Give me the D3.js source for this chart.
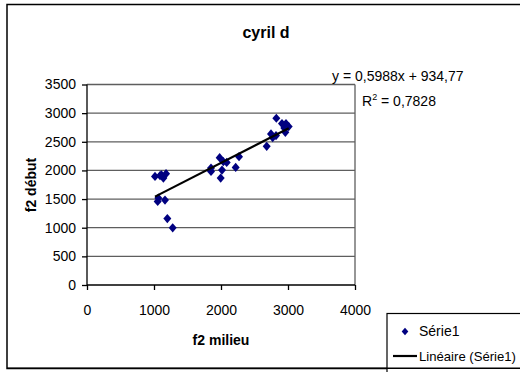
<!DOCTYPE html>
<html>
<head>
<meta charset="utf-8">
<script src="https://cdn.jsdelivr.net/npm/d3@7"></script>
<style>
html,body{margin:0;padding:0;background:#fff;}
svg{display:block;font-family:"Liberation Sans",Arial,sans-serif;}
</style>
</head>
<body>
<svg id="c" width="520" height="372"></svg>
<script>
const title = "cyril d";
const xTitle = "f2 milieu";
const yTitle = "f2 début";
const xTicks = [0, 1000, 2000, 3000, 4000];
const yTicks = [0, 500, 1000, 1500, 2000, 2500, 3000, 3500];
const xValues = [1015, 1090, 1140, 1180, 1110, 1055, 1065, 1164, 1199, 1279,
                 1851, 1851, 1980, 2015, 1995, 2085, 2035, 2219, 2269,
                 2682, 2746, 2771, 2821, 2826, 2910, 2970, 2960, 3010, 2945];
const yValues = [1895, 1908, 1867, 1943, 1925, 1458, 1517, 1482, 1160, 998,
                 2042, 1983, 2222, 2007, 1867, 2140, 2152, 2053, 2240,
                 2420, 2637, 2573, 2608, 2911, 2818, 2818, 2666, 2766, 2741];
const slope = 0.5988, intercept = 934.77;
const eqText = "y = 0,5988x + 934,77";
const r2Value = "0,7828";
const seriesName = "Série1";
const trendName = "Linéaire (Série1)";

const svg = d3.select("#c");
// outer frame
svg.append("rect").attr("x", 7).attr("y", 4.5).attr("width", 540).attr("height", 364)
  .attr("fill", "#fff").attr("stroke", "#000").attr("stroke-width", 1.5);

const x = d3.scaleLinear().domain([0, 4000]).range([87, 355]);
const y = d3.scaleLinear().domain([0, 3500]).range([285, 84.5]);

// gridlines
svg.append("g").selectAll("line").data(yTicks.filter(d => d > 0)).join("line")
  .attr("x1", x(0)).attr("x2", x(4000))
  .attr("y1", d => y(d)).attr("y2", d => y(d))
  .attr("stroke", "#5e5e5e").attr("stroke-width", 1.3);
// right border of plot area
svg.append("line").attr("x1", x(4000)).attr("x2", x(4000)).attr("y1", y(3500)).attr("y2", y(0))
  .attr("stroke", "#5e5e5e").attr("stroke-width", 1.3);

// axes
const yAxis = d3.axisLeft(y).tickValues(yTicks).tickSize(5).tickPadding(6).tickFormat(d3.format("d"));
const gy = svg.append("g").attr("transform", `translate(${x(0)},0)`).call(yAxis);
const xAxis = d3.axisBottom(x).tickValues(xTicks).tickSize(5).tickPadding(15).tickFormat(d3.format("d"));
const gx = svg.append("g").attr("transform", `translate(0,${y(0)})`).call(xAxis);
[gx, gy].forEach(g => {
  g.select(".domain").attr("stroke", "#000").attr("stroke-width", 1.3);
  g.selectAll(".tick line").attr("stroke", "#000").attr("stroke-width", 1.3);
  g.selectAll("text").attr("font-family", "Liberation Sans, Arial, sans-serif").attr("font-size", 14).attr("fill", "#000");
});
gy.select(".domain").attr("d", `M-0,${y(3500)}V${y(0)}`);
gx.select(".domain").attr("d", `M${x(0)},0H${x(4000)}`);
gy.selectAll(".tick text").attr("x", -11);

// points
const pts = xValues.map((v, i) => [v, yValues[i]]);
const diamond = "M0,-4.6L4,0L0,4.6L-4,0Z";
svg.append("g").selectAll("path").data(pts).join("path")
  .attr("d", diamond)
  .attr("transform", d => `translate(${x(d[0])},${y(d[1])})`)
  .attr("fill", "#000080");

// trendline
const xmin = d3.min(xValues), xmax = d3.max(xValues);
svg.append("line")
  .attr("x1", x(xmin)).attr("y1", y(slope * xmin + intercept))
  .attr("x2", x(xmax)).attr("y2", y(slope * xmax + intercept))
  .attr("stroke", "#000").attr("stroke-width", 2.2);

// titles
svg.append("text").attr("x", 266).attr("y", 38).attr("text-anchor", "middle")
  .attr("font-size", 16).attr("font-weight", "bold").text(title);
svg.append("text").attr("x", 221).attr("y", 345).attr("text-anchor", "middle")
  .attr("font-size", 14).attr("font-weight", "bold").text(xTitle);
svg.append("text").attr("transform", "translate(36,185) rotate(-90)").attr("text-anchor", "middle")
  .attr("font-size", 14).attr("font-weight", "bold").text(yTitle);

// equation
svg.append("text").attr("x", 332).attr("y", 81).attr("font-size", 14).text(eqText);
const r2 = svg.append("text").attr("x", 362).attr("y", 106).attr("font-size", 14);
r2.append("tspan").text("R");
r2.append("tspan").attr("dy", -6).attr("font-size", 9).text("2");
r2.append("tspan").attr("dy", 6).text(" = " + r2Value);

// legend
svg.append("rect").attr("x", 387).attr("y", 313.5).attr("width", 160).attr("height", 60)
  .attr("fill", "#fff").attr("stroke", "#000").attr("stroke-width", 1.2);
svg.append("path").attr("d", "M0,-3.8L3.3,0L0,3.8L-3.3,0Z")
  .attr("transform", "translate(405,331.5)").attr("fill", "#000080");
svg.append("text").attr("x", 419).attr("y", 336).attr("font-size", 14).text(seriesName);
svg.append("line").attr("x1", 393).attr("x2", 417).attr("y1", 356).attr("y2", 356)
  .attr("stroke", "#000").attr("stroke-width", 2.2);
// bottom frame line over legend
svg.append("line").attr("x1", 7).attr("x2", 520).attr("y1", 368.2).attr("y2", 368.2)
  .attr("stroke", "#000").attr("stroke-width", 1.5);
svg.append("text").attr("x", 419).attr("y", 360.5).attr("font-size", 13.5)
  .attr("textLength", 97).attr("lengthAdjust", "spacingAndGlyphs").text(trendName);
</script>
</body>
</html>
